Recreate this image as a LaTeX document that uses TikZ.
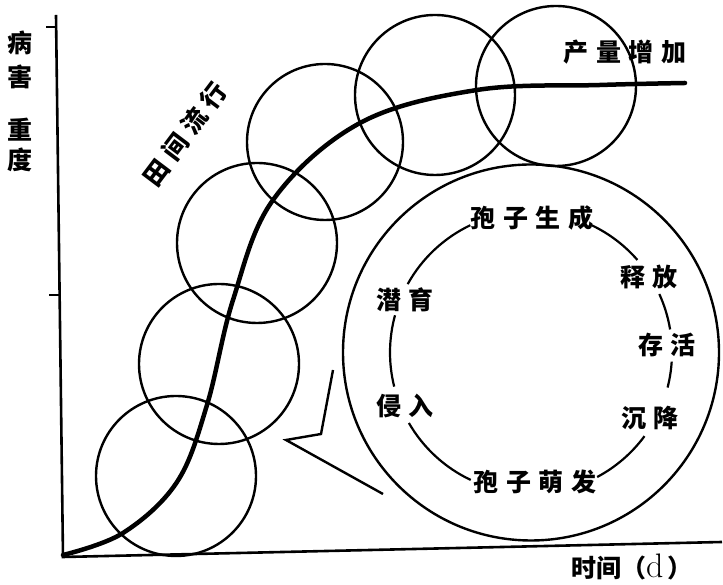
\documentclass[tikz,border=0pt]{standalone}
\usepackage{fontspec}
\newfontfamily\cjk[LetterSpace=30]{Noto Sans CJK SC}
\newfontfamily\cjkn{Noto Sans CJK SC}
\begin{document}
\begin{tikzpicture}[x=1pt,y=1pt,
  ring/.style={line width=2.2pt},
  bubble/.style={circle,draw,line width=2.4pt,inner sep=0pt},
  lbl/.style={inner sep=0pt,font=\cjk\bfseries\fontsize{25}{28}\selectfont},
  lbln/.style={inner sep=0pt,font=\cjkn\bfseries\fontsize{25}{28}\selectfont},
  curve/.style={line width=4.5pt,line cap=round},
  axis/.style={line width=2.6pt}]
\useasboundingbox (0,0) rectangle (723,585);
% axes
\coordinate (ytop) at (56,570);
\coordinate (orig) at (63,28);
\coordinate (xend) at (722,43);
\draw[axis] (ytop) -- (orig) -- (xend);
\coordinate (t1a) at (46,558); \coordinate (t1b) at (57,558);
\coordinate (t2a) at (49,290); \coordinate (t2b) at (60,290);
\draw[axis] (t1a) -- (t1b);
\draw[axis] (t2a) -- (t2b);
% small circles
\node[bubble,minimum size=160pt] (c1) at (176,109) {};
\node[bubble,minimum size=160pt] (c2) at (219,221) {};
\node[bubble,minimum size=160pt] (c3) at (257,342) {};
\node[bubble,minimum size=156pt] (c4) at (325,443) {};
\node[bubble,minimum size=160pt] (c5) at (435,490) {};
\node[bubble,minimum size=160pt] (c6) at (556,499) {};
% big circle
\coordinate (ctr) at (531,232.5);
\node[bubble,minimum size=376pt] (big) at (ctr) {};
% curve
\draw[curve] plot[smooth,tension=0.6] coordinates {(63,30) (123,52) (177,103) (207,180) (233,285) (273,385) (360,462) (477,495) (600,500) (685,502)};
% tail
\coordinate (p1) at (333,215);
\coordinate (p2) at (321,151);
\coordinate (p3) at (286,145);
\coordinate (p4) at (383,91);
\draw[line width=2.4pt] (p1) -- (p2) -- (p3) -- (p4);
% ring arcs
\draw[ring] ([shift={(115.5:141)}]ctr) arc[start angle=115.5,end angle=151,radius=141];
\draw[ring] ([shift={(64.5:141)}]ctr) arc[start angle=64.5,end angle=41,radius=141];
\draw[ring] ([shift={(24.5:141)}]ctr) arc[start angle=24.5,end angle=9.4,radius=141];
\draw[ring] ([shift={(-3.7:141)}]ctr) arc[start angle=-3.7,end angle=-14.4,radius=141];
\draw[ring] ([shift={(-36.4:141)}]ctr) arc[start angle=-36.4,end angle=-62,radius=141];
\draw[ring] ([shift={(-115.3:141)}]ctr) arc[start angle=-115.3,end angle=-150,radius=141];
\draw[ring] ([shift={(-166:141)}]ctr) arc[start angle=-166,end angle=-195.3,radius=141];
% labels
\node[lbl] (sc) at (532,367) {孢子生成};
\node[lbl] (mf) at (535,103) {孢子萌发};
\node[lbl] (qy) at (405,285) {潜育};
\node[lbl] (qr) at (405,179) {侵入};
\node[lbl] (sf) at (649,308) {释放};
\node[lbl] (ch) at (667,240) {存活};
\node[lbl] (cj) at (650,167) {沉降};
\node[lbl] (cl) at (625,533) {产量增加};
\node[lbln,rotate=53] (tj) at (185,451) {田\hspace{7pt}间\hspace{7pt}流\hspace{7pt}行};
\node[lbln] (xl) at (632,18) {时间（{\rmfamily\mdseries\fontsize{34}{34}\selectfont d}\,）};
\node[lbln] (y1) at (20,542) {病};
\node[lbln] (y2) at (20,508) {害};
\node[lbln] (y3) at (20,455) {重};
\node[lbln] (y4) at (20,425) {度};
\end{tikzpicture}
\end{document}
